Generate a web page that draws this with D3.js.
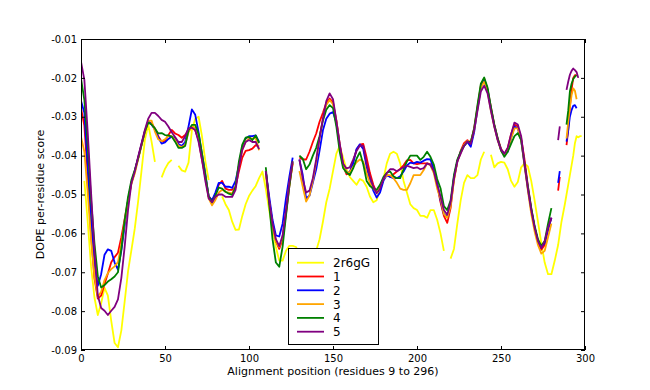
<!DOCTYPE html>
<html><head><meta charset="utf-8">
<script src="https://cdn.jsdelivr.net/npm/d3@7"></script>
<style>
body{margin:0;background:#fff;}
svg{display:block;font-family:"DejaVu Sans",sans-serif;}
</style>
</head><body>
<svg id="chart" width="650" height="390"></svg>
<script>
const positions = [0,2,4,6,8,10,12,14,16,18,
20,22,24,26,28,30,32,34,36,38,
40,42,44,46,48,50,52,54,56,58,
60,62,64,66,68,70,72,74,76,78,
80,82,84,86,88,90,92,94,96,98,
100,102,104,106,108,110,112,114,116,118,
120,122,124,126,128,130,132,134,136,138,
140,142,144,146,148,150,152,154,156,158,
160,162,164,166,168,170,172,174,176,178,
180,182,184,186,188,190,192,194,196,198,
200,202,204,206,208,210,212,214,216,218,
220,222,224,226,228,230,232,234,236,238,
240,242,244,246,248,250,252,254,256,258,
260,262,264,266,268,270,272,274,276,278,
280,282,284,285,286,288,289,290,291,292,
293,294,295,296,297,298];

const seriesNames = ["2r6gG","1","2","3","4","5"];
const seriesColors = ["#ffff00","#ff0000","#0000ff","#ffa500","#008000","#800080"];

const s2r6gG = [null,-0.0465,-0.057,-0.0685,-0.0765,-0.081,-0.078,-0.074,-0.076,-0.0825,
-0.0882,-0.0893,-0.085,-0.0775,-0.0698,-0.0643,-0.0588,-0.0518,-0.044,-0.036,
-0.032,-0.0364,-0.0416,null,-0.0456,-0.0434,-0.0419,-0.0411,null,-0.0426,
-0.0438,-0.0441,-0.0418,-0.0335,-0.0305,-0.030,-0.035,-0.0414,-0.0463,null,
null,null,-0.0505,-0.0525,-0.054,-0.057,-0.0591,-0.059,-0.0555,-0.0525,
-0.0504,-0.049,-0.0478,-0.0458,-0.0441,-0.0485,-0.054,-0.0588,-0.0635,-0.067,
-0.067,-0.0645,-0.0632,-0.0632,-0.0635,-0.0655,-0.067,-0.0675,-0.067,-0.066,
-0.0645,-0.0615,-0.057,-0.052,-0.0485,-0.044,-0.0395,-0.0375,-0.0405,-0.0435,
-0.0455,-0.0465,-0.0475,-0.046,-0.0465,-0.048,-0.0505,-0.052,-0.0515,-0.0485,
-0.046,-0.042,-0.0395,-0.039,-0.0395,-0.042,-0.0465,-0.0495,-0.0525,-0.0535,
-0.054,-0.0555,-0.0555,-0.056,-0.054,-0.054,-0.0565,-0.06,-0.0645,null,
-0.0665,-0.064,-0.0575,-0.0515,-0.047,-0.045,-0.0458,-0.0458,-0.045,-0.041,
-0.039,null,-0.0398,-0.043,-0.042,-0.0416,-0.0418,-0.0435,-0.0465,-0.048,
-0.0468,-0.043,-0.042,-0.0428,-0.0465,-0.0515,-0.057,-0.0625,-0.0675,-0.0705,
-0.0705,-0.067,-0.063,-0.060,-0.057,-0.0525,-0.050,-0.0475,-0.045,-0.0425,
-0.040,-0.0368,-0.035,-0.0353,-0.035,-0.035];

const s1 = [-0.0278,-0.0323,-0.045,-0.0605,-0.0715,-0.0768,-0.076,-0.073,-0.0703,-0.0674,
-0.0661,-0.065,-0.061,-0.0563,-0.0515,-0.047,-0.044,-0.0407,-0.0372,-0.0338,
-0.0312,-0.0317,-0.033,-0.035,-0.0364,-0.0362,-0.0347,-0.0334,-0.0343,-0.0347,
-0.0354,-0.0347,-0.0334,-0.0328,-0.0335,-0.036,-0.041,-0.0455,-0.0505,-0.0515,
-0.050,-0.0475,-0.0465,-0.0485,-0.0488,-0.0488,-0.048,-0.044,-0.0405,-0.0388,
-0.0386,-0.0382,-0.0373,-0.0377,null,-0.044,-0.0515,-0.0575,-0.062,-0.064,
-0.0615,-0.055,-0.048,-0.042,null,-0.0405,-0.041,-0.041,-0.039,-0.0365,
-0.0343,-0.0313,-0.029,-0.0265,-0.0253,-0.0263,-0.031,-0.037,-0.0425,-0.0448,
-0.0445,-0.0415,-0.0385,-0.0372,-0.037,-0.0405,-0.0445,-0.0475,-0.0495,-0.048,
-0.046,-0.045,-0.0454,-0.0448,-0.0441,-0.0434,-0.0425,-0.0412,-0.0411,-0.042,
-0.0422,-0.042,-0.042,-0.042,-0.0422,-0.0435,-0.0475,-0.052,-0.0555,-0.0573,
-0.0535,-0.046,-0.0415,-0.0388,-0.0368,-0.036,-0.0367,-0.033,-0.0275,-0.022,
-0.0202,-0.023,-0.0275,-0.032,-0.0355,-0.0382,-0.0396,-0.038,-0.0345,-0.032,
-0.0325,-0.0355,-0.041,-0.0478,-0.0535,-0.0585,-0.062,-0.0642,-0.063,-0.059,
-0.056,null,-0.049,-0.0455,null,null,-0.0373,-0.0335,-0.0275,-0.023,
-0.020,-0.0193,-0.0193,null,null,null];

const s2 = [-0.0259,-0.029,-0.043,-0.0565,-0.0675,-0.0735,-0.0705,-0.0655,-0.0641,-0.0645,
-0.0675,-0.0693,-0.0645,-0.058,-0.0515,-0.047,-0.044,-0.0407,-0.0372,-0.0338,
-0.0313,-0.032,-0.0333,-0.0353,-0.0369,-0.0366,-0.0357,-0.0351,-0.0355,-0.037,
-0.0375,-0.0365,-0.0325,-0.0281,-0.0295,-0.034,-0.0395,-0.0446,-0.0505,-0.0515,
-0.0495,-0.047,-0.047,-0.048,-0.048,-0.0483,-0.0465,-0.0425,-0.0377,-0.0356,
-0.035,-0.035,-0.0348,-0.0365,null,-0.044,-0.0505,-0.0565,-0.0605,-0.0608,
-0.0575,-0.051,-0.0455,-0.0405,null,-0.041,-0.045,-0.051,-0.0503,-0.047,
-0.0435,-0.0387,-0.0335,-0.0305,-0.0292,-0.0288,-0.0315,-0.0375,-0.0425,-0.0443,
-0.0443,-0.042,-0.0383,-0.0371,-0.0383,-0.0428,-0.0465,-0.049,-0.0508,-0.0495,
-0.0465,-0.045,-0.0455,-0.0458,-0.0458,-0.0453,-0.0441,-0.0425,-0.0418,-0.042,
-0.0416,-0.0418,-0.0413,-0.0409,-0.041,-0.0435,-0.047,-0.0515,-0.055,-0.0558,
-0.0525,-0.0455,-0.0415,-0.039,-0.0375,-0.0365,-0.0377,-0.034,-0.028,-0.0225,
-0.0205,-0.023,-0.028,-0.0323,-0.0358,-0.0385,-0.0395,-0.039,-0.0355,-0.0325,
-0.033,-0.036,-0.0425,-0.0485,-0.054,-0.0585,-0.0618,-0.0635,-0.0625,-0.059,
-0.056,null,-0.047,-0.044,null,null,-0.0364,-0.0335,-0.030,-0.0283,
-0.0272,-0.027,-0.0278,null,null,null];

const s3 = [-0.0351,-0.039,-0.0495,-0.0615,-0.071,-0.0763,-0.075,-0.072,-0.0702,-0.0692,
-0.0685,-0.0674,-0.0628,-0.057,-0.0518,-0.0473,-0.0446,-0.041,-0.0375,-0.034,
-0.031,-0.031,-0.0338,-0.0358,-0.0363,-0.0358,-0.035,-0.035,-0.036,-0.0375,
-0.0378,-0.0372,-0.034,-0.0325,-0.0328,-0.0355,-0.0405,-0.0455,-0.051,-0.0528,
-0.0514,-0.0495,-0.0488,-0.0493,-0.0495,-0.0497,-0.048,-0.0425,-0.0385,-0.0364,
-0.0356,-0.0356,-0.0355,-0.0386,null,-0.045,-0.052,-0.058,-0.062,-0.0635,
-0.061,-0.0545,-0.0475,-0.042,null,-0.044,-0.048,-0.0518,-0.0503,-0.0465,
-0.0415,-0.0355,-0.0305,-0.027,-0.0257,-0.0268,-0.031,-0.0375,-0.0425,-0.0443,
-0.0443,-0.0429,-0.0417,-0.041,-0.0415,-0.0445,-0.0471,-0.0485,-0.0493,-0.048,
-0.046,-0.045,-0.045,-0.0458,-0.047,-0.0485,-0.0488,-0.0488,-0.0471,-0.045,
-0.045,-0.045,-0.0437,-0.042,-0.0425,-0.0445,-0.0485,-0.051,-0.055,-0.056,
-0.053,-0.0465,-0.0415,-0.0393,-0.0373,-0.0362,-0.0365,-0.0335,-0.028,-0.0225,
-0.021,-0.0235,-0.0285,-0.0325,-0.036,-0.0387,-0.0397,-0.0385,-0.0355,-0.033,
-0.033,-0.036,-0.0425,-0.049,-0.055,-0.0595,-0.063,-0.0652,-0.0645,-0.061,
-0.0575,null,null,null,null,null,-0.0356,-0.0315,-0.0275,-0.0245,
-0.0227,-0.0233,-0.0255,null,null,null];

const s4 = [-0.0201,-0.0257,-0.0375,-0.0515,-0.0625,-0.071,-0.0739,-0.0733,-0.0724,-0.0718,
-0.0711,-0.070,-0.064,-0.0566,-0.0506,-0.0463,-0.0437,-0.0407,-0.0373,-0.0338,
-0.0315,-0.032,-0.033,-0.0343,-0.0342,-0.0347,-0.0348,-0.0351,-0.0364,-0.038,
-0.038,-0.0375,-0.0335,-0.0321,-0.0321,-0.0345,-0.0395,-0.045,-0.0505,-0.052,
-0.0503,-0.0482,-0.0485,-0.0493,-0.0498,-0.0501,-0.048,-0.0415,-0.0372,-0.0354,
-0.0352,-0.036,-0.0348,-0.0368,null,-0.043,-0.0525,-0.0615,-0.0675,-0.0686,
-0.0634,-0.0555,-0.048,-0.0415,null,-0.040,-0.0408,-0.0435,-0.0423,-0.040,
-0.038,-0.035,-0.031,-0.0282,-0.027,-0.0278,-0.0325,-0.039,-0.0432,-0.0443,
-0.045,-0.0433,-0.0408,-0.0391,-0.0422,-0.0465,-0.0478,-0.0485,-0.0488,-0.0475,
-0.0455,-0.0444,-0.0441,-0.0453,-0.0458,-0.0458,-0.0435,-0.0415,-0.040,-0.040,
-0.040,-0.0411,-0.0403,-0.039,-0.0403,-0.0423,-0.046,-0.0484,-0.053,-0.054,
-0.0515,-0.045,-0.041,-0.039,-0.0375,-0.0365,-0.0365,-0.033,-0.027,-0.0215,
-0.0199,-0.0225,-0.0275,-0.032,-0.0355,-0.0387,-0.0403,-0.039,-0.037,-0.035,
-0.0342,-0.036,-0.042,-0.048,-0.0535,-0.058,-0.0615,-0.0632,-0.062,-0.0575,
-0.0535,null,null,null,null,null,-0.032,-0.0285,-0.0235,-0.0215,
-0.0203,-0.0197,-0.0193,null,null,null];

const s5 = [-0.0158,-0.0205,-0.034,-0.0495,-0.0645,-0.076,-0.0792,-0.0799,-0.081,-0.0799,
-0.0789,-0.077,-0.0715,-0.0634,-0.054,-0.0471,-0.0441,-0.0403,-0.0369,-0.0334,
-0.0305,-0.029,-0.029,-0.0298,-0.0308,-0.0313,-0.0325,-0.034,-0.0352,-0.0365,
-0.0365,-0.035,-0.033,-0.0328,-0.0334,-0.0365,-0.041,-0.0465,-0.051,-0.052,
-0.0506,-0.050,-0.050,-0.0506,-0.0506,-0.0506,-0.0488,-0.043,-0.0385,-0.0365,
-0.036,-0.0365,-0.0365,-0.0383,null,-0.044,-0.0515,-0.0575,-0.0615,-0.0633,
-0.0605,-0.054,-0.047,-0.0415,null,-0.041,-0.046,-0.0495,-0.049,-0.0458,
-0.041,-0.0355,-0.0305,-0.026,-0.024,-0.0255,-0.031,-0.037,-0.042,-0.0433,
-0.043,-0.041,-0.0388,-0.0374,-0.0375,-0.042,-0.0455,-0.048,-0.0497,-0.0485,
-0.046,-0.0445,-0.0435,-0.0435,-0.044,-0.0435,-0.043,-0.0426,-0.0429,-0.0432,
-0.043,-0.0435,-0.0432,-0.042,-0.0424,-0.044,-0.0475,-0.0505,-0.054,-0.0552,
-0.052,-0.046,-0.0415,-0.0395,-0.0375,-0.0363,-0.037,-0.0335,-0.0285,-0.0235,
-0.022,-0.024,-0.0285,-0.0325,-0.036,-0.0385,-0.0395,-0.038,-0.0345,-0.0315,
-0.032,-0.035,-0.042,-0.0485,-0.054,-0.0585,-0.062,-0.0638,-0.062,-0.0585,
-0.056,null,-0.036,-0.0325,null,null,-0.0231,-0.021,-0.0192,-0.0182,
-0.0176,-0.018,-0.0185,-0.020,null,null];

const xTicks = [0,50,100,150,200,250,300];
const yTicks = [-0.09,-0.08,-0.07,-0.06,-0.05,-0.04,-0.03,-0.02,-0.01];
const yTickLabels = ["-0.09","-0.08","-0.07","-0.06","-0.05","-0.04","-0.03","-0.02","-0.01"];
const xLabel = "Alignment position (residues 9 to 296)";
const yLabel = "DOPE per-residue score";

const allSeries = [s2r6gG, s1, s2, s3, s4, s5];

const W = 650, H = 390;
const mL = 81, mR = 585, mT = 39, mB = 350;
const svg = d3.select("#chart");
svg.append("rect").attr("width", W).attr("height", H).attr("fill", "#fff");

const x = d3.scaleLinear().domain([0, 300]).range([mL, mR]);
const y = d3.scaleLinear().domain([-0.09, -0.01]).range([mB, mT]);

svg.append("defs").append("clipPath").attr("id", "clip")
  .append("rect").attr("x", mL).attr("y", mT).attr("width", mR - mL).attr("height", mB - mT);

const line = d3.line()
  .defined(d => d[1] !== null)
  .x(d => x(d[0]))
  .y(d => y(d[1]));

const g = svg.append("g").attr("clip-path", "url(#clip)");
allSeries.forEach((vals, i) => {
  const pts = positions.map((p, k) => [p, vals[k]]);
  g.append("path")
    .attr("d", line(pts))
    .attr("fill", "none")
    .attr("stroke", seriesColors[i])
    .attr("stroke-width", 1.8)
    .attr("stroke-linejoin", "round");
});

const fmtY = d => yTickLabels[yTicks.indexOf(d)];
const axB = svg.append("g").attr("transform", `translate(0,${mB})`)
  .call(d3.axisBottom(x).tickValues(xTicks).tickSize(-4).tickPadding(5).tickFormat(d3.format("d")));
const axL = svg.append("g").attr("transform", `translate(${mL},0)`)
  .call(d3.axisLeft(y).tickValues(yTicks).tickSize(-4).tickPadding(4).tickFormat(fmtY));
const axT = svg.append("g").attr("transform", `translate(0,${mT})`)
  .call(d3.axisTop(x).tickValues(xTicks).tickSize(-4).tickFormat(""));
const axR = svg.append("g").attr("transform", `translate(${mR},0)`)
  .call(d3.axisRight(y).tickValues(yTicks).tickSize(-4).tickFormat(""));
[axB, axL, axT, axR].forEach(a => {
  a.select(".domain").remove();
  a.selectAll("line").attr("stroke", "#000");
  a.selectAll("text").attr("fill", "#000").style("font-family", "DejaVu Sans, sans-serif").style("font-size", "10px");
});

svg.append("rect").attr("x", mL + 0.5).attr("y", mT + 0.5)
  .attr("width", mR - mL - 1).attr("height", mB - mT - 1)
  .attr("fill", "none").attr("stroke", "#000").attr("stroke-width", 1);

svg.append("text").attr("x", (mL + mR) / 2).attr("y", 375)
  .attr("text-anchor", "middle").style("font-size", "11px").attr("fill", "#000").text(xLabel);
svg.append("text").attr("transform", `translate(44,${(mT + mB) / 2}) rotate(-90)`)
  .attr("text-anchor", "middle").style("font-size", "11px").attr("fill", "#000").text(yLabel);

const lg = svg.append("g");
lg.append("rect").attr("x", 288.5).attr("y", 248.5).attr("width", 90).attr("height", 96)
  .attr("fill", "#fff").attr("stroke", "#000").attr("stroke-width", 1);
seriesNames.forEach((name, i) => {
  const ry = 262.7 + i * 13.8;
  lg.append("line").attr("x1", 297).attr("x2", 324).attr("y1", ry).attr("y2", ry)
    .attr("stroke", seriesColors[i]).attr("stroke-width", 1.8);
  lg.append("text").attr("x", 333).attr("y", ry + 4.4).style("font-size", "12px")
    .attr("fill", "#000").text(name);
});
</script>
</body></html>
